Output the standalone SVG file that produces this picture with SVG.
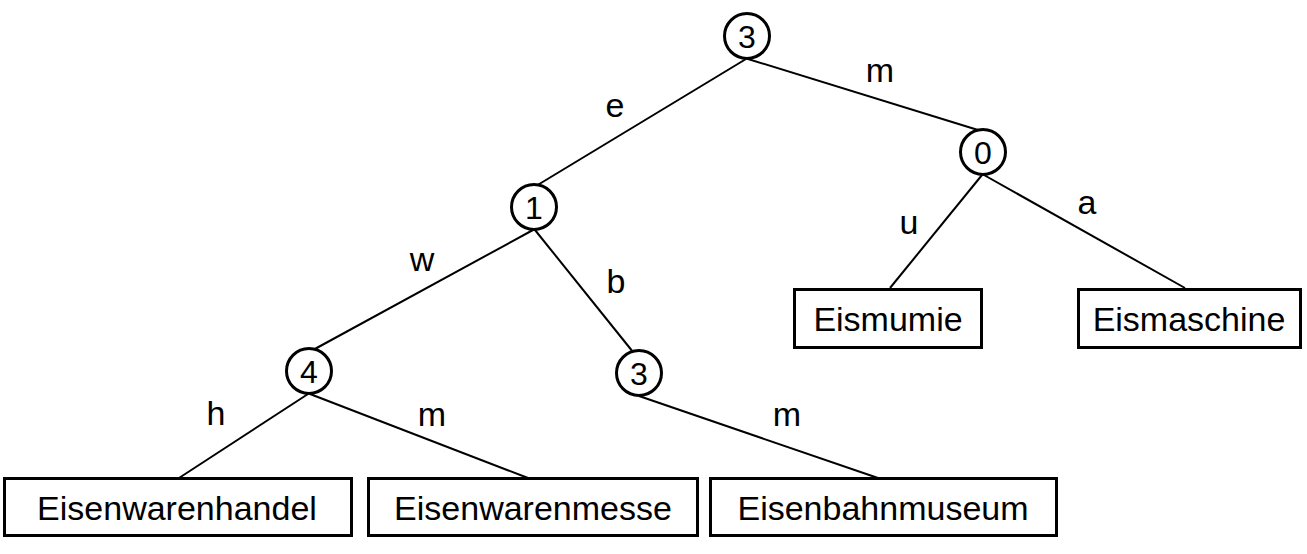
<svg xmlns="http://www.w3.org/2000/svg" width="1307" height="554" viewBox="0 0 1307 554">
<style>
.n{fill:#fff;stroke:#000;stroke-width:3}
.e{stroke:#000;stroke-width:2;fill:none}
text{font-family:"Liberation Sans",Arial,sans-serif;font-size:34px;fill:#000;text-anchor:middle}
.d{font-size:32px}
</style>
<rect width="1307" height="554" fill="#fff"/>
<g id="connectors">
<line class="e" x1="746" y1="59" x2="536" y2="186"/>
<line class="e" x1="748" y1="59" x2="978" y2="130"/>
<line class="e" x1="982" y1="175" x2="890" y2="288"/>
<line class="e" x1="984" y1="175" x2="1185" y2="288"/>
<line class="e" x1="533" y1="230" x2="313" y2="350"/>
<line class="e" x1="535" y1="230" x2="633" y2="352"/>
<line class="e" x1="308" y1="394" x2="179" y2="478"/>
<line class="e" x1="310" y1="394" x2="528" y2="478"/>
<line class="e" x1="639" y1="396" x2="878" y2="478"/>
<text x="615" y="117">e</text>
<text x="880" y="82">m</text>
<text x="422" y="271">w</text>
<text x="616" y="293">b</text>
<text x="909" y="234">u</text>
<text x="1087" y="214">a</text>
<text x="216" y="425">h</text>
<text x="432" y="426">m</text>
<text x="787" y="426">m</text>
</g>
<g id="n_root"><circle class="n" cx="747" cy="36" r="22.5"/><text class="d" x="747" y="47.5">3</text></g>
<g id="n_m"><circle class="n" cx="983" cy="152" r="22.5"/><text class="d" x="983" y="163.5">0</text></g>
<g id="n_e"><circle class="n" cx="534" cy="207" r="22.5"/><text class="d" x="534" y="218.5">1</text></g>
<g id="n_ew"><circle class="n" cx="309" cy="371" r="22.5"/><text class="d" x="309" y="382.5">4</text></g>
<g id="n_eb"><circle class="n" cx="639" cy="373" r="22.5"/><text class="d" x="639" y="384.5">3</text></g>
<g id="leaf_eismumie"><rect class="n" x="794.5" y="289.5" width="187" height="58"/><text x="888" y="331">Eismumie</text></g>
<g id="leaf_eismaschine"><rect class="n" x="1078.5" y="289.5" width="222" height="58"/><text x="1189" y="331">Eismaschine</text></g>
<g id="leaf_eisenwarenhandel"><rect class="n" x="4.5" y="478.5" width="347" height="57"/><text x="177" y="520">Eisenwarenhandel</text></g>
<g id="leaf_eisenwarenmesse"><rect class="n" x="368.5" y="478.5" width="329" height="57"/><text x="533" y="520">Eisenwarenmesse</text></g>
<g id="leaf_eisenbahnmuseum"><rect class="n" x="710.5" y="478.5" width="346" height="57"/><text x="883" y="520">Eisenbahnmuseum</text></g>
</svg>
